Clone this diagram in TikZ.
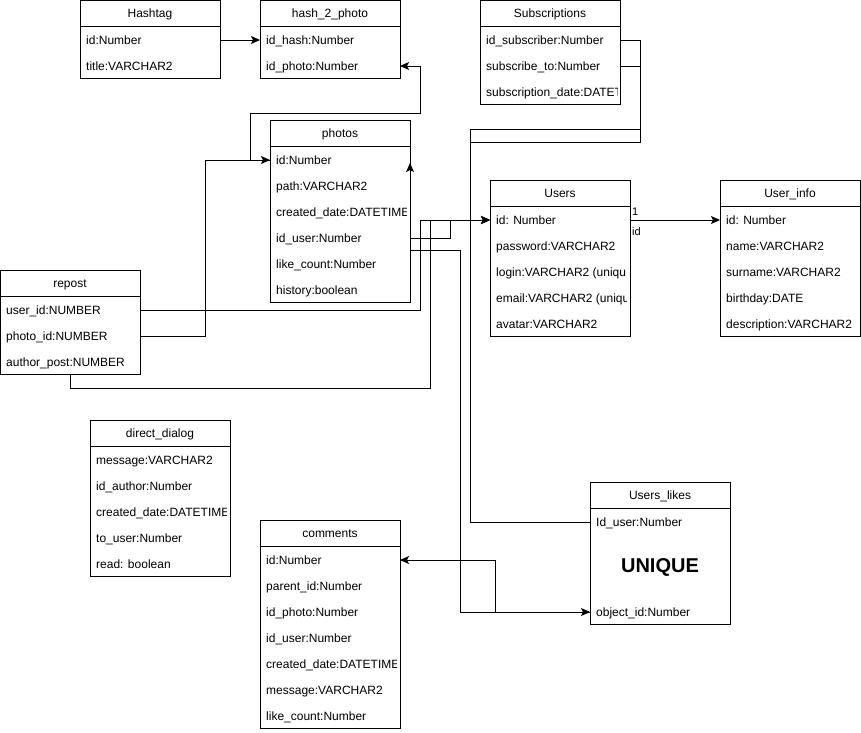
\documentclass[tikz,border=0pt]{standalone}
\usepackage{fontspec}
\setmainfont{Liberation Sans}
\usetikzlibrary{arrows.meta}
\newcommand{\erTable}[6]{%
  \node[tbl, minimum width=#4pt, minimum height=#5pt, anchor=north west] (#1) at (#2,#3) {};
  \draw[tblline] (#2,#3+26) -- (#2+#4,#3+26);
  \node[ttl] (#1-title) at (#2+#4/2,#3+13) {#6};
}
\begin{document}
\begin{tikzpicture}[x=1pt,y=-1pt,
  tbl/.style={draw=black, line width=1pt, fill=white, inner sep=0pt, outer sep=0pt},
  tblline/.style={line width=1pt},
  ttl/.style={anchor=center, inner sep=0pt, text height=8.6pt, text depth=0pt, font=\fontsize{12}{14}\selectfont},
  rowtxt/.style={anchor=west, inner sep=0pt, text height=8.6pt, text depth=0pt, font=\fontsize{12}{14}\selectfont},
  conn/.style={line width=1pt, draw=black},
  arr/.style={conn, -{Stealth[length=9pt,width=8pt,inset=2pt]}},
  lbl/.style={anchor=west, inner sep=0pt, text height=7.9pt, text depth=0pt, font=\fontsize{11}{13}\selectfont}
]
\useasboundingbox (0,0) rectangle (861,732);

% ---------- tables ----------
\erTable{hashtag}{80}{0}{140}{78}{Hashtag}
\node[rowtxt] (hash-id) at (86,40) {id:Number};
\node[rowtxt] (hash-title) at (86,66) {title:VARCHAR2};

\erTable{h2p}{260}{0}{140}{78}{hash\_2\_photo}
\node[rowtxt] (h2p-idhash) at (266,40) {id\_hash:Number};
\node[rowtxt] (h2p-idphoto) at (266,66) {id\_photo:Number};

\erTable{subs}{480}{0}{140}{104}{Subscriptions}
\node[rowtxt] (sb-sub) at (486,40) {id\_subscriber:Number};
\node[rowtxt] (sb-to) at (486,66) {subscribe\_to:Number};
\begin{scope}
  \clip (480,80) rectangle (617,104);
  \node[rowtxt] (sb-date) at (486,92) {subscription\_date:DATET};
\end{scope}

\erTable{photos}{270}{120}{140}{182}{photos}
\node[rowtxt] (ph-id) at (276,160) {id:Number};
\node[rowtxt] (ph-path) at (276,186) {path:VARCHAR2};
\begin{scope}
  \clip (270,200) rectangle (406,224);
  \node[rowtxt] (ph-date) at (276,212) {created\_date:DATETIME};
\end{scope}
\node[rowtxt] (ph-iduser) at (276,238) {id\_user:Number};
\node[rowtxt] (ph-like) at (276,264) {like\_count:Number};
\node[rowtxt] (ph-hist) at (276,290) {history:boolean};

\erTable{users}{490}{180}{140}{156}{Users}
\node[rowtxt] (us-id) at (496,220) {id: Number};
\node[rowtxt] (us-pass) at (496,246) {password:VARCHAR2};
\begin{scope}
  \clip (490,206) rectangle (626,336);
  \node[rowtxt] (us-login) at (496,272) {login:VARCHAR2 (uniqu};
  \node[rowtxt] (us-email) at (496,298) {email:VARCHAR2 (uniqu};
\end{scope}
\node[rowtxt] (us-avatar) at (496,324) {avatar:VARCHAR2};

\erTable{uinfo}{720}{180}{140}{156}{User\_info}
\node[rowtxt] (ui-id) at (726,220) {id: Number};
\node[rowtxt] (ui-name) at (726,246) {name:VARCHAR2};
\node[rowtxt] (ui-surname) at (726,272) {surname:VARCHAR2};
\node[rowtxt] (ui-birth) at (726,298) {birthday:DATE};
\node[rowtxt] (ui-desc) at (726,324) {description:VARCHAR2};

\erTable{repost}{0}{270}{140}{104}{repost}
\node[rowtxt] (rp-user) at (6,310) {user\_id:NUMBER};
\node[rowtxt] (rp-photo) at (6,336) {photo\_id:NUMBER};
\node[rowtxt] (rp-author) at (6,362) {author\_post:NUMBER};

\erTable{dd}{90}{420}{140}{156}{direct\_dialog}
\node[rowtxt] (dd-msg) at (96,460) {message:VARCHAR2};
\node[rowtxt] (dd-author) at (96,486) {id\_author:Number};
\begin{scope}
  \clip (90,500) rectangle (226,524);
  \node[rowtxt] (dd-date) at (96,512) {created\_date:DATETIME};
\end{scope}
\node[rowtxt] (dd-to) at (96,538) {to\_user:Number};
\node[rowtxt] (dd-read) at (96,564) {read: boolean};

\erTable{comments}{260}{520}{140}{208}{comments}
\node[rowtxt] (cm-id) at (266,560) {id:Number};
\node[rowtxt] (cm-parent) at (266,586) {parent\_id:Number};
\node[rowtxt] (cm-photo) at (266,612) {id\_photo:Number};
\node[rowtxt] (cm-user) at (266,638) {id\_user:Number};
\begin{scope}
  \clip (260,652) rectangle (396,676);
  \node[rowtxt] (cm-date) at (266,664) {created\_date:DATETIME};
\end{scope}
\node[rowtxt] (cm-msg) at (266,690) {message:VARCHAR2};
\node[rowtxt] (cm-like) at (266,716) {like\_count:Number};

\erTable{ul}{590}{482}{140}{142}{Users\_likes}
\node[rowtxt] (ul-user) at (596,522) {Id\_user:Number};
\node[anchor=center, inner sep=0pt, font=\bfseries\fontsize{20}{24}\selectfont] (ul-unique) at (660,567) {UNIQUE};
\node[rowtxt] (ul-obj) at (596,612) {object\_id:Number};

% ---------- connectors ----------
\coordinate (ph-out) at (410,250);
\coordinate (ph-uptip) at (410,163);

\draw[arr] (hashtag.east |- hash-id) -- (h2p.west |- h2p-idhash);
\draw[arr] (photos.west |- ph-id) -- (250,160) -- (250,113) -- (420,113) -- (420,66) -- (h2p.east |- h2p-idphoto);
\draw[arr] (repost.east |- rp-photo) -- (205,336) -- (205,160) -- (photos.west |- ph-id);
\draw[arr] (repost.east |- rp-user) -- (420,310) -- (420,220) -- (users.west |- us-id);
\draw[arr] (repost.south) -- (70,388) -- (430,388) -- (430,220) -- (users.west |- us-id);
\draw[arr] (photos.east |- ph-iduser) -- (450,238) -- (450,220) -- (users.west |- us-id);
\draw[arr] (ph-out) -- (460,250) -- (460,612) -- (ul.west |- ul-obj);
\draw[arr] (ul.west |- ul-obj) -- (495,612) -- (495,560) -- (comments.east |- cm-id);
\draw[conn] (subs.east |- sb-sub) -- (640,40) -- (640,142) -- (470,142) -- (470,522) -- (ul.west |- ul-user);
\draw[conn] (subs.east |- sb-to) -- (640,66) -- (640,129) -- (470,129) -- (470,522);
\draw[arr] (photos.south east) -- (ph-uptip);
\draw[arr] (users.east |- us-id) -- (uinfo.west |- ui-id);
\node[lbl] (lbl-one) at (632,212) {1};
\node[lbl] (lbl-id) at (632,232) {id};
\end{tikzpicture}
\end{document}
